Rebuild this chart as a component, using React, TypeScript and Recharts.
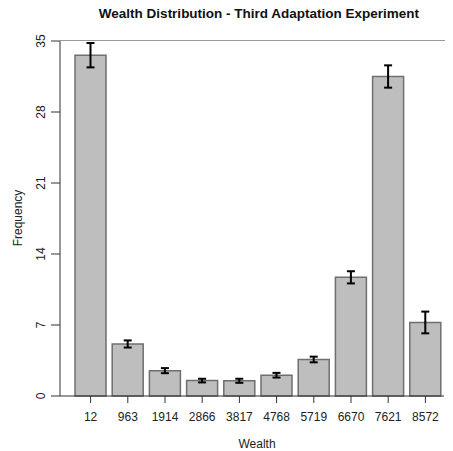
import { BarChart, Bar, XAxis, YAxis, ErrorBar } from 'recharts';

const wealth = ['12', '963', '1914', '2866', '3817', '4768', '5719', '6670', '7621', '8572'];
const frequency = [33.6, 5.13, 2.5, 1.52, 1.5, 2.05, 3.6, 11.7, 31.5, 7.25];
const freqErr = [1.2, 0.35, 0.25, 0.18, 0.2, 0.23, 0.28, 0.6, 1.1, 1.07];
const yTicks = [0, 7, 14, 21, 28, 35];

const data = wealth.map((w, i) => ({ wealth: w, freq: frequency[i], err: freqErr[i] }));

const font = '"Liberation Sans", Arial, sans-serif';

type TickProps = { x?: number; y?: number; payload?: { value: number | string } };

function YTick({ x, y, payload }: TickProps) {
  return (
    <text
      x={0}
      y={0}
      transform={`translate(${(x ?? 0) - 4}, ${y}) rotate(-90)`}
      textAnchor="middle"
      fontSize={12}
      fontFamily={font}
      fill="#222"
    >
      {payload?.value}
    </text>
  );
}

function XTick({ x, payload }: TickProps) {
  return (
    <text x={x} y={421} textAnchor="middle" fontSize={12} fontFamily={font} fill="#222">
      {payload?.value}
    </text>
  );
}

export default function App() {
  return (
    <div style={{ position: 'relative', width: 453, height: 451, margin: '-8px 0 0 -8px', background: '#fff', fontFamily: font }}>
      <BarChart
        width={453}
        height={451}
        data={data}
        margin={{ top: 41, right: 9, left: 0, bottom: 0 }}
        barSize={31}
      >
        <XAxis
          dataKey="wealth"
          height={55}
          padding={{ left: 12, right: 0 }}
          tickSize={7}
          tickLine={{ stroke: '#333' }}
          axisLine={{ stroke: '#333' }}
          tick={<XTick />}
          interval={0}
        />
        <YAxis
          width={60}
          domain={[0, 35]}
          ticks={yTicks}
          tickSize={9}
          tickLine={{ stroke: '#333' }}
          axisLine={{ stroke: '#333' }}
          tick={<YTick />}
        />
        <Bar dataKey="freq" fill="#bebebe" stroke="#6f6f6f" strokeWidth={1.5} isAnimationActive={false}>
          <ErrorBar dataKey="err" direction="y" width={4} stroke="#000" strokeWidth={2} />
        </Bar>
      </BarChart>
      <div
        style={{
          position: 'absolute', top: 6, left: 0, width: 518, textAlign: 'center',
          fontWeight: 'bold', fontSize: 13.5, color: '#111', zIndex: 2,
        }}
      >
        Wealth Distribution - Third Adaptation Experiment
      </div>
      <div style={{ position: 'absolute', top: 40, left: 60, width: 393, height: 1, background: '#999', zIndex: 2 }} />
      <div
        style={{
          position: 'absolute', left: 18, top: 218, transform: 'translate(-50%, -50%) rotate(-90deg)',
          fontSize: 12, color: '#222', whiteSpace: 'nowrap', zIndex: 2,
        }}
      >
        Frequency
      </div>
      <div
        style={{
          position: 'absolute', top: 437, left: 217, width: 80, textAlign: 'center',
          fontSize: 12, lineHeight: '14px', color: '#222', zIndex: 2,
        }}
      >
        Wealth
      </div>
    </div>
  );
}
